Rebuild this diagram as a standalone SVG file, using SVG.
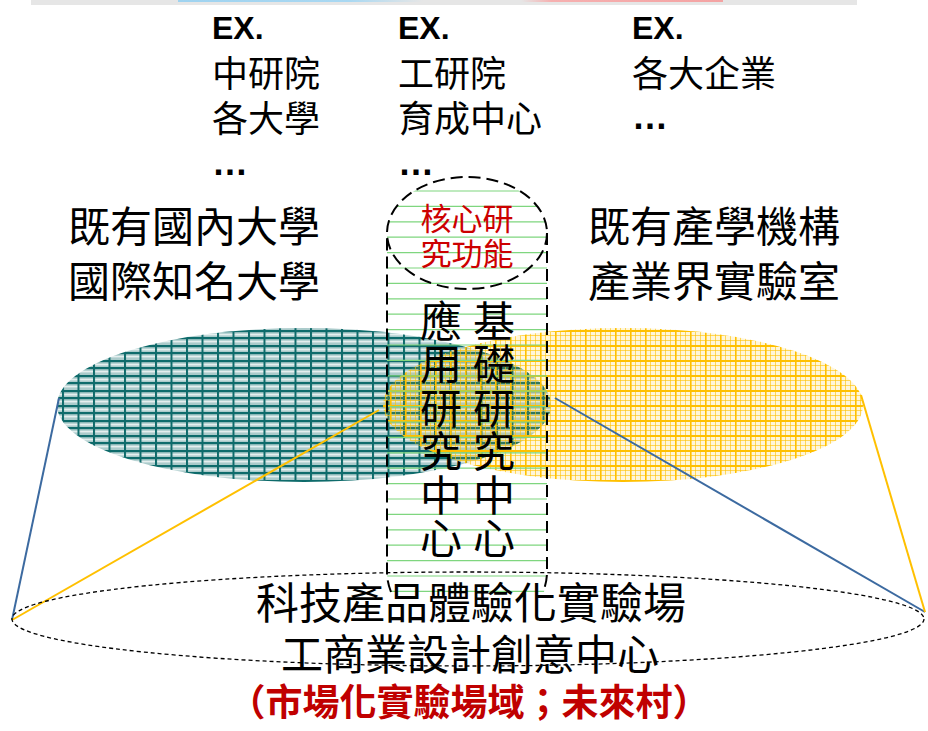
<svg xmlns="http://www.w3.org/2000/svg" width="928" height="731" viewBox="0 0 928 731">
<style>
.cjk{font-family:"Noto Sans CJK TC","Noto Sans CJK SC",sans-serif;fill:#000}
.ex{font-family:"Liberation Sans",Arial,sans-serif;font-weight:bold;font-size:32px;fill:#000}
.dots{font-family:"Liberation Sans",Arial,sans-serif;font-weight:bold;font-size:36px;fill:#000}
.t36{font-size:36px}
.t42{font-size:42px}
.red{fill:#c00000}
.dash{fill:none;stroke:#000;stroke-width:2;stroke-dasharray:12 6}
.gl{stroke:#7fd67f;stroke-width:1.2}
.vc{font-family:"Noto Sans CJK TC","Noto Sans CJK SC",sans-serif;font-size:42px;fill:#000;writing-mode:vertical-rl;letter-spacing:1.4px}
</style>
<defs>
<pattern id="teal" width="15.5" height="15" patternUnits="userSpaceOnUse">
<rect x="0" y="0" width="15.5" height="15" fill="#0e6b6b" fill-opacity="0.35"/>
<rect x="0" y="0" width="15.5" height="2.2" fill="#0e6b6b"/>
<rect x="0" y="3.8" width="15.5" height="1.6" fill="#ffffff" fill-opacity="0.7"/>
<rect x="0" y="7" width="15.5" height="2.2" fill="#0e6b6b"/>
<rect x="0" y="10.8" width="15.5" height="1.6" fill="#ffffff" fill-opacity="0.7"/>
<rect x="0" y="0" width="2" height="15" fill="#0e6b6b"/>
</pattern>
<pattern id="gold" width="15" height="15" patternUnits="userSpaceOnUse">
<rect x="0" y="0" width="15" height="15" fill="#ffc000" fill-opacity="0.15"/>
<rect x="0" y="0" width="15" height="2" fill="#ffc000"/>
<rect x="0" y="5" width="15" height="1" fill="#ffc000" fill-opacity="0.6"/>
<rect x="0" y="10" width="15" height="1" fill="#ffc000" fill-opacity="0.6"/>
<rect x="0" y="0" width="1.6" height="15" fill="#ffc000"/>
<rect x="5" y="0" width="1" height="15" fill="#ffc000" fill-opacity="0.6"/>
<rect x="10" y="0" width="1" height="15" fill="#ffc000" fill-opacity="0.6"/>
</pattern>
<linearGradient id="blueFade" x1="0" x2="1" y1="0" y2="0">
<stop offset="0" stop-color="#9fd3f0"/><stop offset="0.7" stop-color="#a9d8f2"/><stop offset="1" stop-color="#e6e6e6"/>
</linearGradient>
<linearGradient id="pinkFade" x1="0" x2="1" y1="0" y2="0">
<stop offset="0" stop-color="#e6e6e6"/><stop offset="0.15" stop-color="#f6b0b0"/><stop offset="1" stop-color="#f4a3a3"/>
</linearGradient>
<clipPath id="pillClip">
<path d="M387,233 A80,56 0 0 1 547,233 L547,572 Q547,590 541,597 L393,597 Q387,590 387,572 Z"/>
</clipPath>
</defs>

<g id="top-bar">
<rect x="31" y="0" width="826" height="5" fill="#e6e6e6"/>
<rect x="178" y="0" width="245" height="2" fill="url(#blueFade)"/>
<rect x="521" y="0" width="202" height="2" fill="url(#pinkFade)"/>
</g>

<g id="examples">
<g id="ex-research">
<text class="ex" x="212" y="39">EX.</text>
<text class="cjk t36" x="212" y="87">中研院</text>
<text class="cjk t36" x="212" y="132">各大學</text>
<text class="dots" x="212" y="175">…</text>
</g>
<g id="ex-itri">
<text class="ex" x="398" y="39">EX.</text>
<text class="cjk t36" x="398" y="87">工研院</text>
<text class="cjk t36" x="398" y="132">育成中心</text>
<text class="dots" x="398" y="175">…</text>
</g>
<g id="ex-enterprise">
<text class="ex" x="632" y="39">EX.</text>
<text class="cjk t36" x="632" y="87">各大企業</text>
<text class="dots" x="632" y="129">…</text>
</g>
</g>

<g id="label-universities">
<text class="cjk t42" x="68" y="242">既有國內大學</text>
<text class="cjk t42" x="68" y="297">國際知名大學</text>
</g>
<g id="label-industry">
<text class="cjk t42" x="588" y="242">既有產學機構</text>
<text class="cjk t42" x="588" y="297">產業界實驗室</text>
</g>

<g id="ellipse-applied">
<ellipse cx="304" cy="405" rx="247" ry="77" fill="url(#teal)"/>
</g>
<g id="ellipse-basic">
<ellipse cx="623" cy="405" rx="240" ry="77" fill="url(#gold)"/>
</g>

<g id="connectors" stroke-width="2" fill="none">
<line x1="59" y1="398" x2="12" y2="620" stroke="#3c6aa0"/>
<line x1="379" y1="410" x2="12" y2="620" stroke="#ffc000"/>
<line x1="555" y1="398" x2="925" y2="612" stroke="#3c6aa0"/>
<line x1="861" y1="395" x2="925" y2="612" stroke="#ffc000"/>
</g>

<g id="base-ellipse">
<ellipse cx="468" cy="619" rx="456" ry="47" fill="none" stroke="#000" stroke-width="1.3" stroke-dasharray="4 3"/>
</g>

<g id="core-pill">
<g clip-path="url(#pillClip)">
<path class="gl" d="M387,191H547M387,206.4H547M387,221.8H547M387,237.2H547M387,252.6H547M387,268H547M387,283.4H547M387,298.8H547M387,314.2H547M387,329.6H547M387,345H547M387,360.4H547M387,375.8H547M387,391.2H547M387,406.6H547M387,422H547M387,437.4H547M387,452.8H547M387,468.2H547M387,483.6H547M387,499H547M387,514.4H547M387,529.8H547M387,545.2H547M387,560.6H547M387,576H547M387,591.4H547"/>
</g>
<path class="dash" d="M547,233 L547,572 Q547,582 543,592 M391,592 Q387,582 387,572 L387,233"/>
</g>

<g id="core-function">
<ellipse class="dash" cx="467" cy="233" rx="80" ry="56"/>
<text class="cjk" font-size="31" text-anchor="middle" style="fill:#cc0000"><tspan x="467" y="230">核心研</tspan><tspan x="467" y="265">究功能</tspan></text>
</g>

<g id="applied-research">
<text class="vc" x="441" y="300">應用研究中心</text>
</g>
<g id="basic-research">
<text class="vc" x="494" y="300">基礎研究中心</text>
</g>

<g id="market-lab">
<text class="cjk" text-anchor="middle"><tspan x="471" y="619" font-size="43">科技產品體驗化實驗場</tspan><tspan x="470" y="670" font-size="42">工商業設計創意中心</tspan><tspan x="469" y="716" font-size="37" font-weight="bold" fill="#c00000">（市場化實驗場域；未來村）</tspan></text>
</g>
</svg>
